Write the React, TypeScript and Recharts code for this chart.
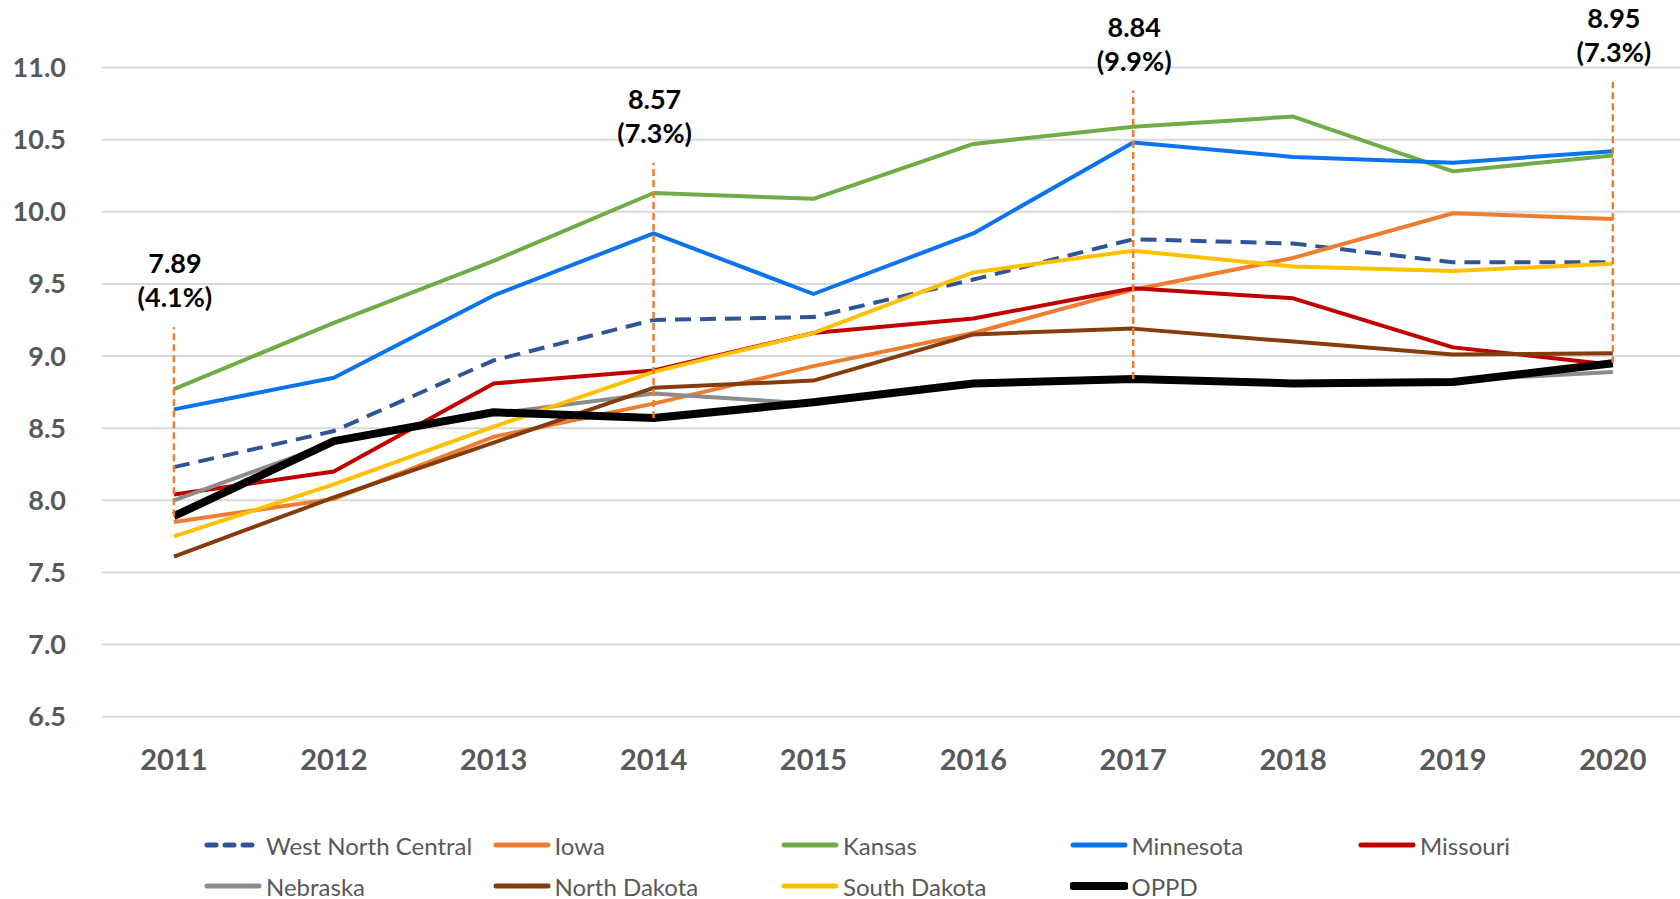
import { LineChart, Line, XAxis, YAxis, CartesianGrid, ReferenceLine } from 'recharts'

const years = [2011, 2012, 2013, 2014, 2015, 2016, 2017, 2018, 2019, 2020]
const yTicks = [6.5, 7.0, 7.5, 8.0, 8.5, 9.0, 9.5, 10.0, 10.5, 11.0]

const westNorthCentral = [8.23, 8.48, 8.97, 9.25, 9.27, 9.53, 9.81, 9.78, 9.65, 9.65]
const iowa = [7.85, 8.01, 8.44, 8.67, 8.93, 9.16, 9.46, 9.68, 9.99, 9.95]
const kansas = [8.77, 9.23, 9.66, 10.13, 10.09, 10.47, 10.59, 10.66, 10.28, 10.39]
const minnesota = [8.63, 8.85, 9.42, 9.85, 9.43, 9.85, 10.48, 10.38, 10.34, 10.42]
const missouri = [8.04, 8.2, 8.81, 8.9, 9.16, 9.26, 9.47, 9.4, 9.06, 8.94]
const nebraska = [8.0, 8.4, 8.6, 8.74, 8.67, 8.81, 8.84, 8.81, 8.83, 8.89]
const northDakota = [7.61, 8.02, 8.4, 8.78, 8.83, 9.15, 9.19, 9.1, 9.01, 9.02]
const southDakota = [7.75, 8.11, 8.51, 8.89, 9.16, 9.58, 9.73, 9.62, 9.59, 9.64]
const oppd = [7.89, 8.41, 8.61, 8.57, 8.68, 8.81, 8.84, 8.81, 8.82, 8.95]

const calloutYears = [2011, 2014, 2017, 2020]
const calloutTops = [9.2, 10.34, 10.84, 10.9]
const calloutValues = ['7.89', '8.57', '8.84', '8.95']
const calloutShares = ['(4.1%)', '(7.3%)', '(9.9%)', '(7.3%)']

const series = [
  { key: 'wnc', name: 'West North Central', values: westNorthCentral, color: '#2f5597', width: 4, dash: '16 9' },
  { key: 'iowa', name: 'Iowa', values: iowa, color: '#ed7d31', width: 4 },
  { key: 'kansas', name: 'Kansas', values: kansas, color: '#70ad47', width: 4 },
  { key: 'minnesota', name: 'Minnesota', values: minnesota, color: '#0a74ee', width: 4 },
  { key: 'missouri', name: 'Missouri', values: missouri, color: '#c00000', width: 4 },
  { key: 'nebraska', name: 'Nebraska', values: nebraska, color: '#8c8c8c', width: 4 },
  { key: 'northDakota', name: 'North Dakota', values: northDakota, color: '#843c0c', width: 4 },
  { key: 'southDakota', name: 'South Dakota', values: southDakota, color: '#ffc000', width: 4 },
  { key: 'oppd', name: 'OPPD', values: oppd, color: '#000000', width: 8 },
]

const data = years.map((year, i) => {
  const row: Record<string, number> = { year }
  series.forEach((s) => {
    row[s.key] = s.values[i]
  })
  return row
})

function calloutLabel(value: string, share: string) {
  return (props: any) => {
    const vb = props.viewBox || {}
    const x = vb.x ?? 0
    const top = vb.y ?? 0
    return (
      <g>
        <text x={x + 1} y={top - 54} textAnchor="middle" fontSize={27} fontWeight={700} fill="#000">
          {value}
        </text>
        <text x={x + 1} y={top - 20} textAnchor="middle" fontSize={27} fontWeight={700} fill="#000">
          {share}
        </text>
      </g>
    )
  }
}

function LegendBox() {
  return (
    <div style={{ position: 'absolute', left: 0, top: 0, width: 1680, height: 899, pointerEvents: 'none' }}>
      {series.map((s, i) => {
        const col = i % 5
        const row = Math.floor(i / 5)
        return (
          <div
            key={s.key}
            style={{
              position: 'absolute',
              left: 204 + col * 288.5,
              top: 845 + row * 41 - 16,
              height: 32,
              display: 'flex',
              alignItems: 'center',
              whiteSpace: 'nowrap',
            }}
          >
            <svg width={58} height={12} style={{ marginRight: 4 }}>
              <line
                x1={3}
                y1={6}
                x2={55}
                y2={6}
                stroke={s.color}
                strokeWidth={s.key === 'oppd' ? 8 : 5}
                strokeLinecap="round"
                strokeDasharray={s.dash ? '9 9' : undefined}
              />
            </svg>
            <span style={{ fontSize: 24, color: '#595959' }}>{s.name}</span>
          </div>
        )
      })}
    </div>
  )
}

export default function App() {
  return (
    <div style={{ position: 'relative', width: 1680, height: 899, fontFamily: 'Lato, sans-serif', background: '#fff' }}>
      <style>{'body{margin:0;overflow:hidden;background:#fff}'}</style>
      <LineChart
        width={1680}
        height={899}
        data={data}
        margin={{ top: 67.5, right: 0, bottom: 122.3, left: 0 }}
      >
        <CartesianGrid vertical={false} stroke="#d9d9d9" strokeWidth={2} />
        <XAxis
          dataKey="year"
          type="number"
          domain={[2010.55, 2020.42]}
          ticks={years}
          allowDataOverflow
          axisLine={false}
          tickLine={false}
          tickSize={0}
          tickMargin={33}
          height={60}
          tick={{ fontSize: 29, fontWeight: 700, fill: '#595959' }}
        />
        <YAxis
          domain={[6.5, 11]}
          ticks={yTicks}
          allowDataOverflow
          axisLine={false}
          tickLine={false}
          tickSize={0}
          tickMargin={36}
          width={102}
          tickFormatter={(v: number) => v.toFixed(1)}
          tick={{ fontSize: 27, fontWeight: 700, fill: '#595959' }}
        />
        {series.map((s) => (
          <Line
            key={s.key}
            dataKey={s.key}
            name={s.name}
            stroke={s.color}
            strokeWidth={s.width}
            strokeDasharray={s.dash}
            strokeLinejoin="round"
            dot={false}
            activeDot={false}
            isAnimationActive={false}
          />
        ))}
        {calloutYears.map((yr, i) => (
          <ReferenceLine
            key={yr}
            segment={[
              { x: yr, y: oppd[years.indexOf(yr)] },
              { x: yr, y: calloutTops[i] },
            ]}
            stroke="#ed7d31"
            strokeWidth={2.5}
            strokeDasharray="7 4"
            ifOverflow="visible"
            label={calloutLabel(calloutValues[i], calloutShares[i])}
          />
        ))}
      </LineChart>
      <LegendBox />
    </div>
  )
}
